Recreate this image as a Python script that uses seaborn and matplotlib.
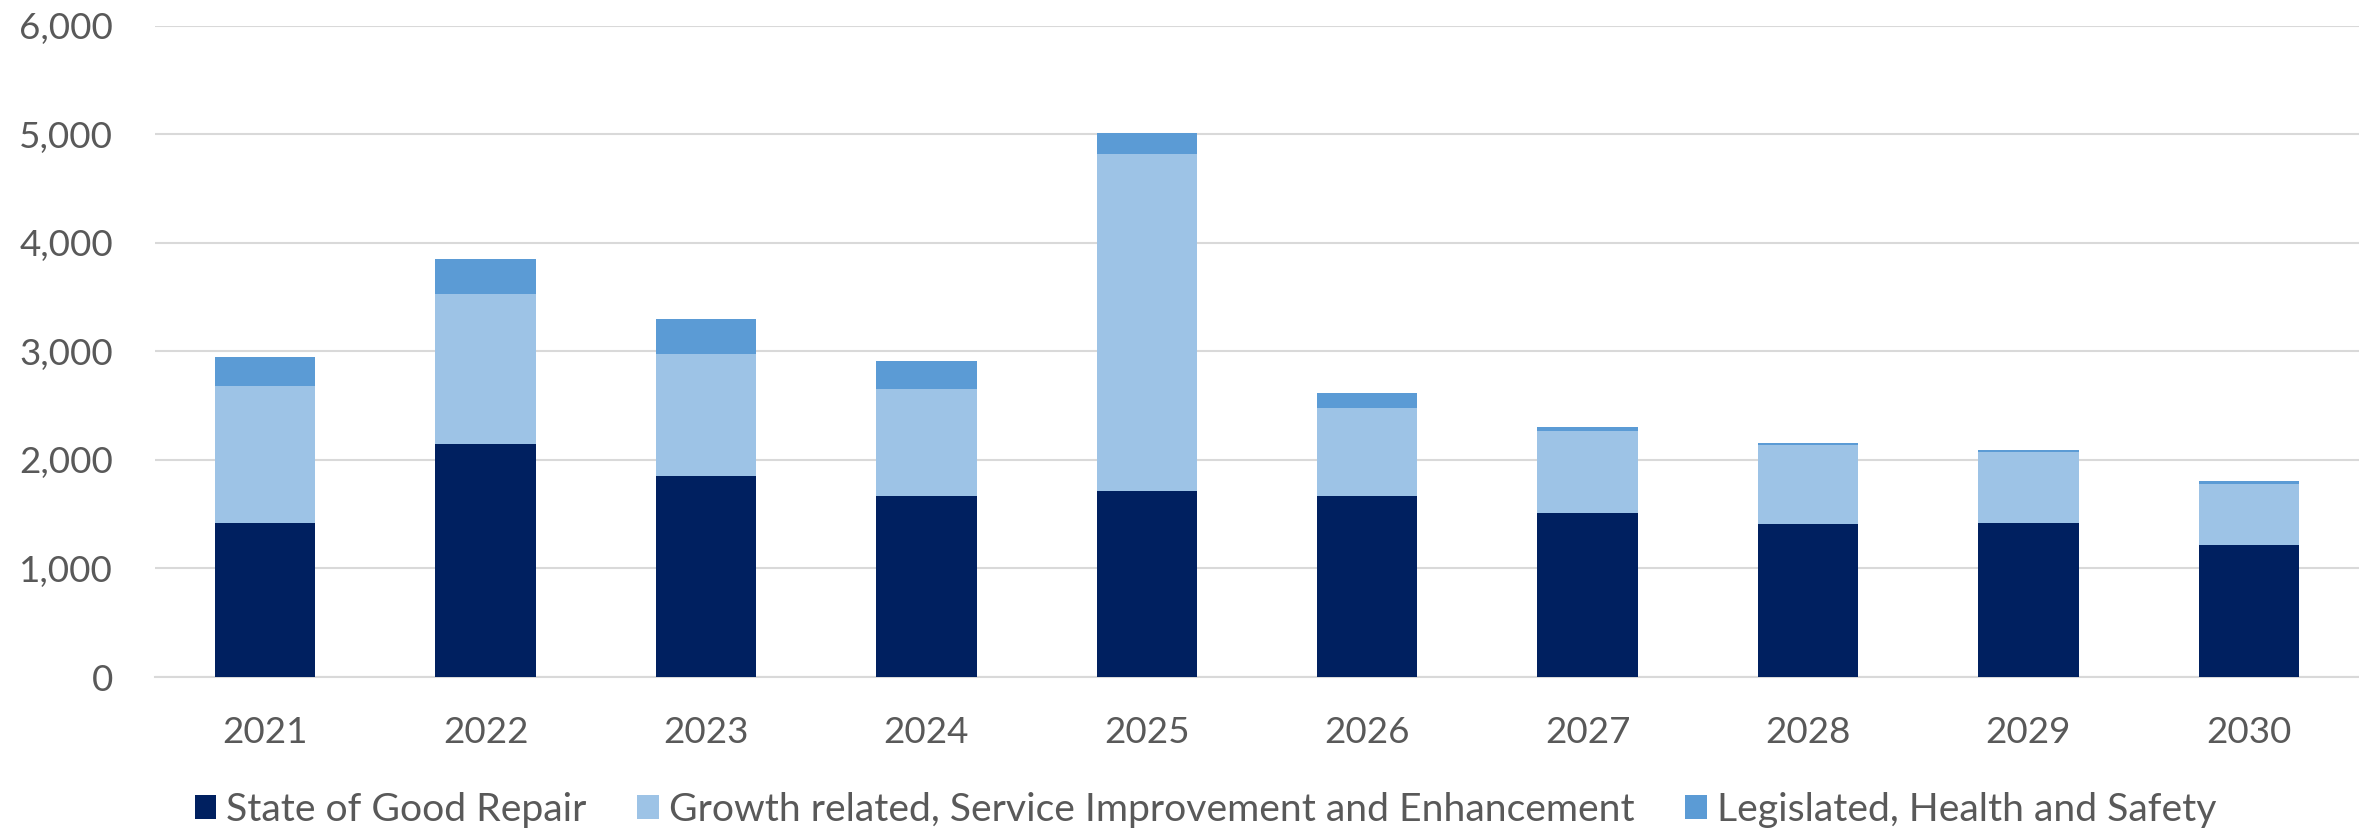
import numpy as np
import pandas as pd
import matplotlib
matplotlib.use("Agg")
import matplotlib.pyplot as plt
import seaborn as sns
from matplotlib.patches import Patch

years = ["2021", "2022", "2023", "2024", "2025", "2026", "2027", "2028", "2029", "2030"]
state_of_good_repair = [1420, 2150, 1850, 1665, 1710, 1665, 1515, 1410, 1415, 1220]
growth_service = [1265, 1375, 1130, 985, 3105, 810, 750, 725, 655, 555]
legislated_hs = [265, 325, 320, 265, 195, 145, 35, 25, 25, 35]
series_names = ["State of Good Repair",
                "Growth related, Service Improvement and Enhancement",
                "Legislated, Health and Safety"]
colors = ["#002060", "#9DC3E6", "#5B9BD5"]
yticks = [0, 1000, 2000, 3000, 4000, 5000, 6000]

sns.set_theme(style="white")
plt.rcParams["font.family"] = ["Lato", "DejaVu Sans"]

df = pd.DataFrame({"year": years,
                   "s1": state_of_good_repair,
                   "s2": growth_service,
                   "s3": legislated_hs})
df["c1"] = df["s1"]
df["c2"] = df["s1"] + df["s2"]
df["c3"] = df["c2"] + df["s3"]

fig = plt.figure(figsize=(23.59, 8.30), dpi=100)
ax = fig.add_axes([0.0657, 0.1843, 0.9343, 0.7848])

for col, colr in zip(["c3", "c2", "c1"], colors[::-1]):
    sns.barplot(data=df, x="year", y=col, color=colr, width=0.455,
                saturation=1, ax=ax, linewidth=0, zorder=3)

ax.set_xlim(-0.5, len(years) - 0.5)
ax.set_ylim(0, 6000)
ax.set_yticks(yticks)
ax.set_yticklabels([f"{v:,}" for v in yticks])
ax.set_xlabel("")
ax.set_ylabel("")
ax.grid(axis="y", color="#D9D9D9", linewidth=1.5, zorder=0)
ax.grid(axis="x", visible=False)
for s in ["top", "right", "left"]:
    ax.spines[s].set_visible(False)
ax.spines["bottom"].set_color("#D9D9D9")
ax.spines["bottom"].set_linewidth(1.5)
ax.tick_params(axis="both", length=0, labelsize=26.5, labelcolor="#595959")
ax.tick_params(axis="y", pad=30)
ax.tick_params(axis="x", pad=28)

handles = [Patch(facecolor=c, edgecolor="none") for c in colors]
fig.legend(handles, series_names, loc="center", bbox_to_anchor=(0.511, 0.024),
           ncol=3, frameon=False, fontsize=28.2, labelcolor="#595959",
           handlelength=0.55, handleheight=0.55, handletextpad=0.25,
           columnspacing=1.3, borderaxespad=0, borderpad=0)

fig.savefig("out.png", dpi=100, facecolor="white")
